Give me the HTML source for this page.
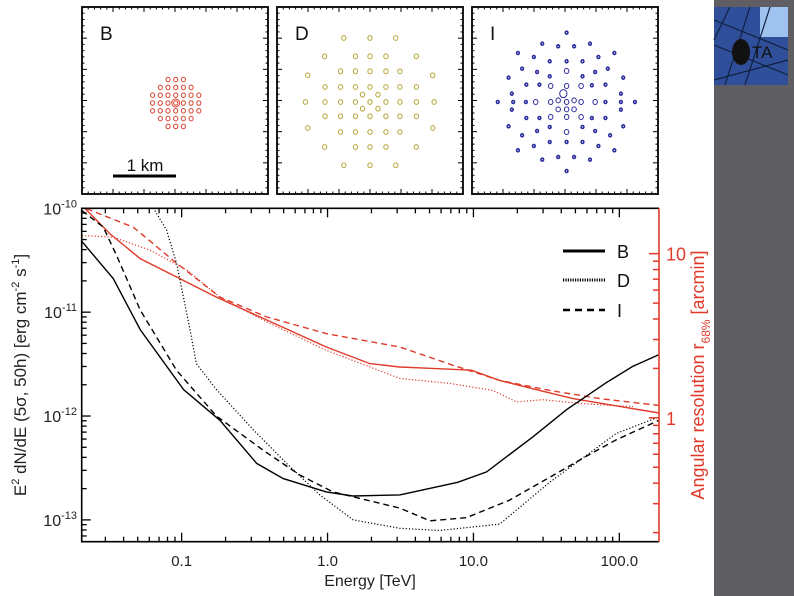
<!DOCTYPE html>
<html><head><meta charset="utf-8"><style>
html,body{margin:0;padding:0;background:#fff;}
svg{display:block;font-family:"Liberation Sans",Arial,sans-serif;}
</style></head><body>
<svg id="fig" width="794" height="596" viewBox="0 0 794 596" xmlns="http://www.w3.org/2000/svg">
<rect x="714" y="0" width="80" height="596" fill="#5f5e63"/>
<g>
<rect x="714" y="7" width="74" height="78" fill="#2f4f9a"/>
<rect x="760" y="7" width="28" height="30" fill="#9fc2ee"/>
<path d="M714 20 L788 50 M714 45 L788 75 M730 7 L714 40 M750 7 L725 85 M770 7 L745 85 M714 80 L788 60" stroke="#102040" stroke-width="1.2" fill="none"/>
<ellipse cx="741" cy="52" rx="9" ry="13" fill="#111"/>
<text x="752" y="58" font-size="17" fill="#111">TA</text>
</g>
<g id="panels"></g>
<g id="main"></g>
</svg>
<script>
// Sensitivity curves (flux in erg cm^-2 s^-1) and angular resolution (arcmin)
const energyB=[0.0207,0.034,0.052,0.103,0.183,0.327,0.497,0.98,1.49,3.13,7.8,12.3,25.5,43.4,81.5,123,187];
const fluxB=[4.8e-11,2.1e-11,6.8e-12,1.8e-12,9.1e-13,3.5e-13,2.5e-13,1.86e-13,1.7e-13,1.74e-13,2.3e-13,2.9e-13,6.3e-13,1.15e-12,2.1e-12,3.0e-12,3.9e-12];
const energyI=[0.0207,0.029,0.0359,0.052,0.0923,0.173,0.361,0.646,1.09,3.13,5.02,8.95,17.7,33.3,59.4,95.3,187];
const fluxI=[9.5e-11,6.6e-11,3.5e-11,1.05e-11,2.75e-12,1.0e-12,4.7e-13,2.7e-13,1.86e-13,1.3e-13,9.8e-14,1.05e-13,1.55e-13,2.57e-13,4.1e-13,5.9e-13,9.1e-13];
const energyD=[0.0655,0.0787,0.0923,0.114,0.126,0.173,0.309,0.524,0.885,1.5,3.13,5.87,15.1,33.3,95.3,187];
const fluxD=[9.5e-11,6.2e-11,2.95e-11,6.8e-12,3.2e-12,1.8e-12,7.4e-13,3.5e-13,1.74e-13,1.0e-13,8.3e-14,7.9e-14,9.1e-14,2.3e-13,6.8e-13,9.8e-13];
const resEnergyB=[0.0207,0.0323,0.052,0.0923,0.173,0.344,0.98,1.95,3.13,5.26,9.68,15.1,28.4,48.1,187];
const resB=[19.7,13.2,9.33,7.21,5.44,4.12,2.7,2.14,2.04,2.0,1.95,1.69,1.47,1.31,1.07];
const resEnergyI=[0.0223,0.0466,0.0875,0.183,0.382,0.98,3.13,7.26,15.1,33.3,73.3,187];
const resI=[18.8,14.5,9.1,5.44,4.12,3.26,2.7,2.09,1.69,1.47,1.31,1.19];
const resEnergyD=[0.0207,0.034,0.0608,0.109,0.183,0.382,0.98,3.13,6.87,13.6,19.7,29.9,56.4,124];
const resD=[12.9,12.6,10.5,7.93,5.44,3.84,2.58,1.74,1.62,1.47,1.25,1.29,1.22,1.17];
const xTicks=[0.1,1,10,100];
const xTickLabels=["0.1","1.0","10.0","100.0"];
const yTicks=[1e-10,1e-11,1e-12,1e-13];
const yTickExp=["-10","-11","-12","-13"];
const rTicks=[1,10];
const rTickLabels=["1","10"];

const NS="http://www.w3.org/2000/svg";
const L=81.7,R=659,T=208.3,B=541.7;
const xMin=Math.log10(0.02065),xMax=Math.log10(187);
const yTop=-10,yBot=-13.21;
const rBot=Math.log10(0.176),rTop=Math.log10(18.9);
function xs(e){return L+(Math.log10(e)-xMin)/(xMax-xMin)*(R-L);}
function ys(f){return T+(yTop-Math.log10(f))/(yTop-yBot)*(B-T);}
function yr(r){return B-(Math.log10(r)-rBot)/(rTop-rBot)*(B-T);}
function mk(tag,attrs,parent,text){const e=document.createElementNS(NS,tag);for(const k in attrs)e.setAttribute(k,attrs[k]);if(text!==undefined)e.textContent=text;parent.appendChild(e);return e;}

const main=document.getElementById('main');
const defs=mk('defs',{},main);
const cp=mk('clipPath',{id:'plotclip'},defs);
mk('rect',{x:L,y:T,width:R-L,height:B-T},cp);

const curves=mk('g',{'clip-path':'url(#plotclip)'},main);


function line(xa,ya,fy,color,dash,width,name){
  const d=xa.map((e,i)=>(i?'L':'M')+xs(e).toFixed(1)+' '+fy(ya[i]).toFixed(1)).join(' ');
  const p=mk('path',{d:d,fill:'none',stroke:color,'stroke-width':width,'stroke-dasharray':dash},curves);
  
  
}
const red='#e03a2a';
line(resEnergyD,resD,yr,red,'1.2 2',1.2,'resolution-d-dotted');
line(resEnergyI,resI,yr,red,'6 4',1.4,'resolution-i-dashed');
line(resEnergyB,resB,yr,red,'',1.4,'resolution-b-solid');
line(energyD,fluxD,ys,'#000','1.2 2',1.2,'sensitivity-d-dotted');
line(energyI,fluxI,ys,'#000','6 4',1.4,'sensitivity-i-dashed');
line(energyB,fluxB,ys,'#000','',1.4,'sensitivity-b-solid');

const fr=mk('path',{d:`M${R} ${T} L${L} ${T} L${L} ${B} L${R} ${B}`,fill:'none',stroke:'#000','stroke-width':1.6},main);


const ra=mk('line',{x1:R,y1:T,x2:R,y2:B,stroke:red,'stroke-width':1.6},main);



const xg=mk('g',{},main);


for(let dec=0.01;dec<=100;dec*=10){for(let m=1;m<10;m++){const v=dec*m;if(v<0.0207||v>187)continue;const x=xs(v);const len=m===1?9:5;
 mk('line',{x1:x,y1:B,x2:x,y2:B-len,stroke:'#000','stroke-width':1.3},xg);
 mk('line',{x1:x,y1:T,x2:x,y2:T+len,stroke:'#000','stroke-width':1.3},xg);}}
xTicks.forEach((v,i)=>{const t=mk('text',{x:xs(v),y:566,'font-size':15,'text-anchor':'middle',fill:'#222'},xg,xTickLabels[i]);
 
 });
const xt=mk('text',{x:370,y:586,'font-size':16,'text-anchor':'middle',fill:'#222'},main,'Energy [TeV]');



const yg=mk('g',{},main);


for(let e=-14;e<=-11;e++){for(let m=1;m<10;m++){const v=m*Math.pow(10,e);const y=ys(v);if(y<T-0.5||y>B+0.5)continue;
 mk('line',{x1:L,y1:y,x2:L+(m===1?9:5),y2:y,stroke:'#000','stroke-width':1.3},yg);}}
mk('line',{x1:L,y1:T,x2:L+9,y2:T,stroke:'#000','stroke-width':1.3},yg);
yTicks.forEach((v,i)=>{const t=mk('text',{x:77,y:ys(v)+6,'font-size':16,'text-anchor':'end',fill:'#222'},yg);
 
 
 mk('tspan',{},t,'10');mk('tspan',{dy:-7,'font-size':11},t,yTickExp[i]);});
const yt=mk('text',{transform:'translate(26 375) rotate(-90)','font-size':17,'text-anchor':'middle',fill:'#222'},main);


mk('tspan',{},yt,'E');mk('tspan',{dy:-7,'font-size':11},yt,'2');mk('tspan',{dy:7},yt,' dN/dE (5σ, 50h) [erg cm');mk('tspan',{dy:-7,'font-size':11},yt,'-2');mk('tspan',{dy:7},yt,' s');mk('tspan',{dy:-7,'font-size':11},yt,'-1');mk('tspan',{dy:7},yt,']');

const rg=mk('g',{},main);


for(let e=-1;e<=1;e++){for(let m=1;m<10;m++){const v=m*Math.pow(10,e);const y=yr(v);if(y<T||y>B)continue;
 mk('line',{x1:R,y1:y,x2:R-(m===1?10:6),y2:y,stroke:red,'stroke-width':1.5},rg);}}
rTicks.forEach((v,i)=>{const t=mk('text',{x:666,y:yr(v)+7,'font-size':18,fill:red},rg,rTickLabels[i]);
 
 });
const rt=mk('text',{transform:'translate(704 375) rotate(-90)','font-size':18,'text-anchor':'middle',fill:red},main);


mk('tspan',{},rt,'Angular resolution r');mk('tspan',{dy:6,'font-size':12},rt,'68%');mk('tspan',{dy:-6},rt,' [arcmin]');

const lg=mk('g',{},main);


[['B','',3,251],['D','1.2 1.2',3,280],['I','7 5',2.5,310]].forEach(a=>{
 const e=mk('g',{},lg);
 
 
 mk('line',{x1:563,y1:a[3],x2:605,y2:a[3],stroke:'#000','stroke-width':a[2],'stroke-dasharray':a[1]},e);
 mk('text',{x:617,y:a[3]+7,'font-size':18,fill:'#111'},e,a[0]);});

const pg=document.getElementById('panels');
const panelX=[82,277,472];
const panelW=186,pT=7,pB=194;
const bPts=[];[[3],[5],[7],[7],[7],[5],[3]].forEach((r,ri)=>{const n=r[0];for(let k=0;k<n;k++)bPts.push([(k-(n-1)/2)*7.7,(ri-3)*7.8,2.3]);});
const dRaw=[[607,113],[663,113],[718,113],[566,168],[632,168],[663,168],[697,168],[762,168],[530,225],[600,213],[632,213],[663,213],[697,213],[727,213],[797,225],[567,260],[600,260],[632,260],[663,260],[697,260],[727,260],[762,260],[647,283],[680,283],[525,305],[567,305],[600,305],[632,305],[663,305],[697,305],[727,305],[762,305],[800,305],[647,325],[680,325],[567,348],[600,348],[632,348],[663,348],[697,348],[727,348],[762,348],[530,383],[600,395],[632,395],[663,395],[697,395],[727,395],[797,383],[566,440],[632,440],[663,440],[697,440],[762,440],[607,495],[663,495],[718,495]];
const dPts=dRaw.map(p=>[(p[0]-663)/2.136,(p[1]-305)/3,2.4]);
const iRaw=[[1082,97,1],[1030,130,1],[1064,138,1],[1098,138,1],[1132,130,1],[978,158,1],[1012,170,1],[1046,183,1],[1082,183,1],[1116,183,1],[1150,170,1],[1184,158,1],[987,205,1],[1019,215,1],[1046,228,1],[1082,212,2],[1116,228,1],[1143,215,1],[1170,205,1],[958,232,1],[996,253,1],[1024,253,1],[1048,257,2],[1082,257,2],[1113,257,2],[1136,255,1],[1165,253,1],[1203,232,1],[965,280,1],[1198,280,1],[1075,280,3],[1064,300,2],[1098,300,2],[935,305,1],[968,305,1],[995,305,1],[1016,305,2],[1048,305,2],[1082,305,2],[1113,305,2],[1143,305,2],[1165,305,1],[1198,305,1],[1228,305,1],[1064,327,2],[1082,327,2],[1098,327,2],[965,328,1],[1198,328,1],[996,353,1],[1024,353,1],[1048,350,2],[1082,350,2],[1113,350,2],[1136,353,1],[1165,353,1],[958,378,1],[1203,378,1],[987,405,1],[1019,392,1],[1046,380,1],[1082,395,2],[1116,380,1],[1143,392,1],[1175,405,1],[978,450,1],[1012,437,1],[1046,425,1],[1082,425,1],[1116,425,1],[1150,437,1],[1184,450,1],[1030,478,1],[1064,470,1],[1098,470,1],[1132,478,1],[1082,512,1]];
const iPts=iRaw.map(p=>[(p[0]-1082)/2.136,(p[1]-305)/3,p[2]===1?1.5:(p[2]===2?2.5:4)]);
const panelCx=[175.7,370,566.6],panelCy=[103,102,102];
const panelPts=[bPts,dPts,iPts];
const panelCol=['#d9412f','#b5a534','#2b2b9c'];
const panelLab=['B','D','I'];
panelX.forEach((px,pi)=>{
 const g=mk('g',{},pg);
 
 
 mk('rect',{x:px,y:pT,width:panelW,height:pB-pT,fill:'#fff',stroke:'#000','stroke-width':1.8},g);
 for(let k=1;k<30;k++){const len=k%5===0?5:2.5;const x=px+k*panelW/30,y=pT+k*(pB-pT)/30;
  mk('line',{x1:x,y1:pB,x2:x,y2:pB-len,stroke:'#000','stroke-width':1},g);
  mk('line',{x1:x,y1:pT,x2:x,y2:pT+len,stroke:'#000','stroke-width':1},g);
  mk('line',{x1:px,y1:y,x2:px+len,y2:y,stroke:'#000','stroke-width':1},g);
  mk('line',{x1:px+panelW,y1:y,x2:px+panelW-len,y2:y,stroke:'#000','stroke-width':1},g);}
 panelPts[pi].forEach(p=>mk('ellipse',{cx:panelCx[pi]+p[0],cy:panelCy[pi]+p[1],rx:p[2]*0.9,ry:p[2],fill:'none',stroke:panelCol[pi],'stroke-width':pi===2&&p[2]<2?1.6:1},g));
 mk('text',{x:px+18,y:40,'font-size':19,fill:'#111'},g,panelLab[pi]);
});
mk('circle',{cx:175.7,cy:103,r:4,fill:'none',stroke:'#d9412f','stroke-width':1},pg);
const sb=mk('g',{},pg);


mk('line',{x1:113,y1:176,x2:176,y2:176,stroke:'#000','stroke-width':3},sb);
mk('text',{x:145,y:171,'font-size':17,'text-anchor':'middle',fill:'#111'},sb,'1 km');
</script>
</body></html>
